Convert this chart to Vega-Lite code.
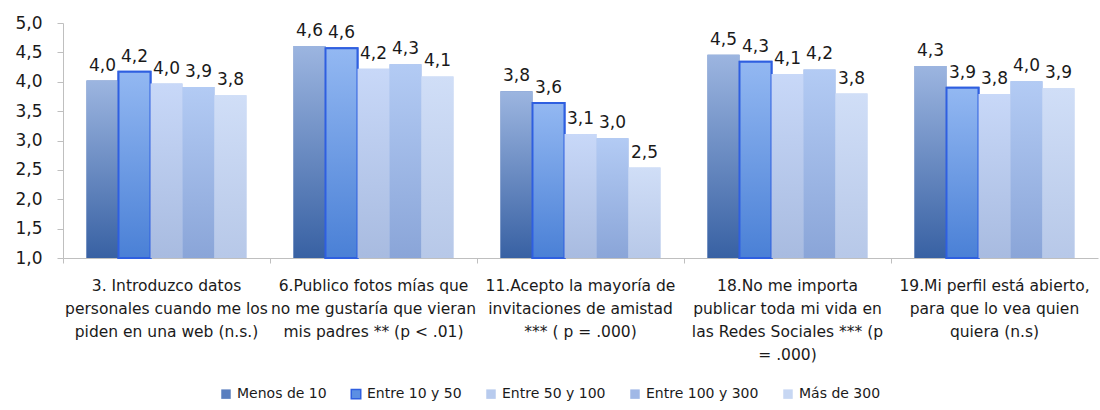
{
  "$schema": "https://vega.github.io/schema/vega-lite/v6.json",
  "width": 1035,
  "height": 235,
  "autosize": {"type": "none"},
  "padding": {"left": 63, "top": 23, "right": 2, "bottom": 152},
  "background": "white",
  "config": {
    "locale": {"number": {"decimal": ",", "thousands": ".", "grouping": [3], "currency": ["", " €"]}},
    "view": {"stroke": null},
    "font": "DejaVu Sans",
    "axis": {"labelColor": "#1a1a1a", "domainColor": "#bfbfbf", "tickColor": "#bfbfbf", "grid": false, "title": null, "labelFont": "DejaVu Sans"},
    "legend": {"labelColor": "#1a1a1a", "labelFont": "DejaVu Sans"}
  },
  "data": {
    "values": [
      {"q": "3. Introduzco datos|personales cuando me los|piden en una web (n.s.)", "s": "Menos de 10", "v": 4.02},
      {"q": "3. Introduzco datos|personales cuando me los|piden en una web (n.s.)", "s": "Entre 10 y 50", "v": 4.17},
      {"q": "3. Introduzco datos|personales cuando me los|piden en una web (n.s.)", "s": "Entre 50 y 100", "v": 3.97},
      {"q": "3. Introduzco datos|personales cuando me los|piden en una web (n.s.)", "s": "Entre 100 y 300", "v": 3.91},
      {"q": "3. Introduzco datos|personales cuando me los|piden en una web (n.s.)", "s": "Más de 300", "v": 3.77},
      {"q": "6.Publico fotos mías que|no me gustaría que vieran|mis padres ** (p < .01)", "s": "Menos de 10", "v": 4.61},
      {"q": "6.Publico fotos mías que|no me gustaría que vieran|mis padres ** (p < .01)", "s": "Entre 10 y 50", "v": 4.57},
      {"q": "6.Publico fotos mías que|no me gustaría que vieran|mis padres ** (p < .01)", "s": "Entre 50 y 100", "v": 4.22},
      {"q": "6.Publico fotos mías que|no me gustaría que vieran|mis padres ** (p < .01)", "s": "Entre 100 y 300", "v": 4.30},
      {"q": "6.Publico fotos mías que|no me gustaría que vieran|mis padres ** (p < .01)", "s": "Más de 300", "v": 4.09},
      {"q": "11.Acepto la mayoría de|invitaciones de amistad|*** ( p = .000)", "s": "Menos de 10", "v": 3.84},
      {"q": "11.Acepto la mayoría de|invitaciones de amistad|*** ( p = .000)", "s": "Entre 10 y 50", "v": 3.64},
      {"q": "11.Acepto la mayoría de|invitaciones de amistad|*** ( p = .000)", "s": "Entre 50 y 100", "v": 3.11},
      {"q": "11.Acepto la mayoría de|invitaciones de amistad|*** ( p = .000)", "s": "Entre 100 y 300", "v": 3.04},
      {"q": "11.Acepto la mayoría de|invitaciones de amistad|*** ( p = .000)", "s": "Más de 300", "v": 2.54},
      {"q": "18.No me importa|publicar toda mi vida en|las Redes Sociales *** (p|= .000)", "s": "Menos de 10", "v": 4.46},
      {"q": "18.No me importa|publicar toda mi vida en|las Redes Sociales *** (p|= .000)", "s": "Entre 10 y 50", "v": 4.34},
      {"q": "18.No me importa|publicar toda mi vida en|las Redes Sociales *** (p|= .000)", "s": "Entre 50 y 100", "v": 4.13},
      {"q": "18.No me importa|publicar toda mi vida en|las Redes Sociales *** (p|= .000)", "s": "Entre 100 y 300", "v": 4.21},
      {"q": "18.No me importa|publicar toda mi vida en|las Redes Sociales *** (p|= .000)", "s": "Más de 300", "v": 3.80},
      {"q": "19.Mi perfil está abierto,|para que lo vea quien|quiera (n.s)", "s": "Menos de 10", "v": 4.27},
      {"q": "19.Mi perfil está abierto,|para que lo vea quien|quiera (n.s)", "s": "Entre 10 y 50", "v": 3.90},
      {"q": "19.Mi perfil está abierto,|para que lo vea quien|quiera (n.s)", "s": "Entre 50 y 100", "v": 3.79},
      {"q": "19.Mi perfil está abierto,|para que lo vea quien|quiera (n.s)", "s": "Entre 100 y 300", "v": 4.01},
      {"q": "19.Mi perfil está abierto,|para que lo vea quien|quiera (n.s)", "s": "Más de 300", "v": 3.89}
    ]
  },
  "encoding": {
    "xOffset": {"field": "s", "type": "nominal", "sort": ["Menos de 10", "Entre 10 y 50", "Entre 50 y 100", "Entre 100 y 300", "Más de 300"], "scale": {"paddingInner": 0, "paddingOuter": 0.734}},
    "y": {
      "field": "v", "type": "quantitative",
      "scale": {"domain": [1, 5], "zero": false, "nice": false},
      "axis": {"values": [1, 1.5, 2, 2.5, 3, 3.5, 4, 4.5, 5], "format": ".1f", "labelFontSize": 17, "tickSize": 6, "labelPadding": 15}
    }
  },
  "layer": [
    {
      "mark": {"type": "bar"},
      "encoding": {
        "x": {"field": "q", "type": "nominal", "sort": null, "scale": {"paddingInner": 0, "paddingOuter": 0},
          "axis": {"orient": "bottom", "labelExpr": "split(datum.label, '|')", "labelAngle": 0, "labelFontSize": 15.5, "labelLineHeight": 23, "labelPadding": 20, "labelLimit": 400, "labelOverlap": false, "ticks": false, "labelBound": false}},
        "y2": {"datum": 1},
        "fill": {"field": "s", "type": "nominal",
          "scale": {"domain": ["Menos de 10", "Entre 10 y 50", "Entre 50 y 100", "Entre 100 y 300", "Más de 300"], "range": ["#5a7fbf", "#5b8fe3", "#b8cbee", "#a0b8e6", "#c7d7f3"]},
          "legend": {"title": null, "orient": "none", "legendX": 156, "legendY": 364, "direction": "horizontal", "columns": 5, "symbolType": "square", "symbolSize": 90, "labelFontSize": 14, "labelOffset": 4, "columnPadding": 21, "symbolStrokeWidth": 1.5}},
        "stroke": {"field": "s", "type": "nominal",
          "scale": {"domain": ["Menos de 10", "Entre 10 y 50", "Entre 50 y 100", "Entre 100 y 300", "Más de 300"], "range": ["transparent", "#2f5fe0", "transparent", "transparent", "transparent"]},
          "legend": {"title": null, "orient": "none", "legendX": 156, "legendY": 364, "direction": "horizontal", "columns": 5, "symbolType": "square", "symbolSize": 90, "labelFontSize": 14, "labelOffset": 4, "columnPadding": 21, "symbolStrokeWidth": 1.5}},
        "strokeWidth": {"value": 2}
      }
    },
    {
      "mark": {"type": "bar", "strokeWidth": 2},
      "encoding": {
        "x": {"field": "q", "type": "nominal", "sort": null,
          "axis": {"orient": "bottom", "bandPosition": 0, "labels": false, "domain": false, "ticks": true, "tickSize": 5}},
        "y2": {"datum": 1},
        "fill": {
          "condition": [
            {"test": "datum.s === 'Menos de 10'", "value": {"gradient": "linear", "x1": 0, "y1": 0, "x2": 0, "y2": 1, "stops": [{"offset": 0, "color": "#9cb5e0"}, {"offset": 1, "color": "#3861a3"}]}},
            {"test": "datum.s === 'Entre 10 y 50'", "value": {"gradient": "linear", "x1": 0, "y1": 0, "x2": 0, "y2": 1, "stops": [{"offset": 0, "color": "#93b8f2"}, {"offset": 1, "color": "#4a80d6"}]}},
            {"test": "datum.s === 'Entre 50 y 100'", "value": {"gradient": "linear", "x1": 0, "y1": 0, "x2": 0, "y2": 1, "stops": [{"offset": 0, "color": "#c8d8f8"}, {"offset": 1, "color": "#a8bbe0"}]}},
            {"test": "datum.s === 'Entre 100 y 300'", "value": {"gradient": "linear", "x1": 0, "y1": 0, "x2": 0, "y2": 1, "stops": [{"offset": 0, "color": "#b3cbf4"}, {"offset": 1, "color": "#8aa5d8"}]}}
          ],
          "value": {"gradient": "linear", "x1": 0, "y1": 0, "x2": 0, "y2": 1, "stops": [{"offset": 0, "color": "#d0def7"}, {"offset": 1, "color": "#b7c8e8"}]}
        },
        "stroke": {"condition": {"test": "datum.s === 'Entre 10 y 50'", "value": "#2f5fe0"}, "value": null}
      }
    },
    {
      "mark": {"type": "text", "baseline": "alphabetic", "dy": -10, "fontSize": 17, "font": "DejaVu Sans", "color": "#1a1a1a"},
      "encoding": {
        "x": {"field": "q", "type": "nominal", "sort": null, "axis": null},
        "text": {"field": "v", "type": "quantitative", "format": ".1f"}
      }
    }
  ],
  "resolve": {"axis": {"x": "independent"}}
}
